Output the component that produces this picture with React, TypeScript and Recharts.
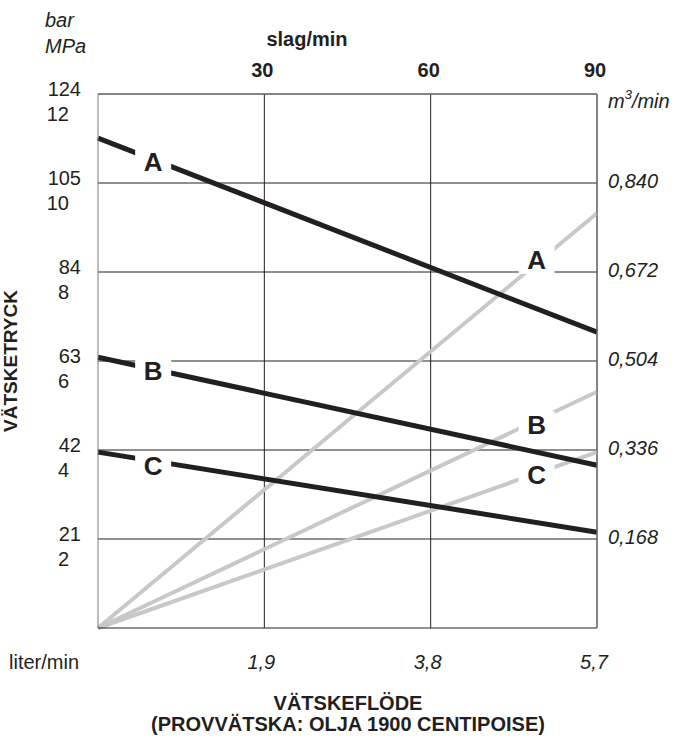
import React from 'react'
import { LineChart, Line, XAxis, YAxis, CartesianGrid, ReferenceDot } from 'recharts'

// flow (liter/min) and stroke rate (slag/min) at the two ends of each line
const flow = [0, 5.7]
const strokes = [0, 90]

// pressure curves, bar
const pressureA = [115.6, 69.8]
const pressureB = [63.9, 38.4]
const pressureC = [41.5, 22.6]

// delivery curves, m3/min
const rateA = [0, 0.783]
const rateB = [0, 0.446]
const rateC = [0, 0.332]

const flowTicks = [1.9, 3.8, 5.7]
const flowTickLabels = ['1,9', '3,8', '5,7']
const strokeTicks = [30, 60, 90]
const barTicks = [21, 42, 63, 84, 105, 126]
const barTickLabels = ['21', '42', '63', '84', '105', '124']
const mpaTickLabels = ['2', '4', '6', '8', '10', '12']
const m3Ticks = [0.168, 0.336, 0.504, 0.672, 0.84]
const m3TickLabels = ['0,168', '0,336', '0,504', '0,672', '0,840']

const pressureLabels = [
  { name: 'A', flow: 0.63, bar: 110 },
  { name: 'B', flow: 0.63, bar: 60.6 },
  { name: 'C', flow: 0.63, bar: 38.2 },
]
const rateLabels = [
  { name: 'A', flow: 5.01, m3: 0.695 },
  { name: 'B', flow: 5.01, m3: 0.383 },
  { name: 'C', flow: 5.01, m3: 0.289 },
]

const data = flow.map((f, i) => ({
  flow: f,
  strokes: strokes[i],
  pA: pressureA[i],
  pB: pressureB[i],
  pC: pressureC[i],
  qA: rateA[i],
  qB: rateB[i],
  qC: rateC[i],
}))

const FONT = '"Liberation Sans", Arial, Helvetica, sans-serif'
const INK = '#231f20'
const GREY = '#c8c8c8'
const FRAME = '#7a7a7a'

const LeftTick = (props: any) => {
  const { y, payload } = props
  const i = barTicks.indexOf(payload.value)
  return (
    <g fontFamily={FONT} fontSize={20} fill={INK}>
      <text x={81} y={y + 2} textAnchor="end" fill={INK}>{barTickLabels[i]}</text>
      <text x={69} y={y + 27} textAnchor="end" fill={INK}>{mpaTickLabels[i]}</text>
    </g>
  )
}

const RightTick = (props: any) => {
  const { y, payload } = props
  const i = m3Ticks.indexOf(payload.value)
  return (
    <text x={608} y={y + 5} fontFamily={FONT} fontSize={20} fontStyle="italic" fill={INK}>
      {m3TickLabels[i]}
    </text>
  )
}

const BottomTick = (props: any) => {
  const { x, payload } = props
  const i = flowTicks.indexOf(payload.value)
  return (
    <text x={x - 3} y={669} textAnchor="middle" fontFamily={FONT} fontSize={20} fontStyle="italic" fill={INK}>
      {flowTickLabels[i]}
    </text>
  )
}

const TopTick = (props: any) => {
  const { x, payload } = props
  return (
    <text x={x - 2} y={77} textAnchor="middle" fontFamily={FONT} fontSize={20} fontWeight="bold" fill={INK}>
      {payload.value}
    </text>
  )
}

const gapLabel = (name: string) => (props: any) => {
  const { cx, cy } = props
  return (
    <g>
      <rect x={cx - 18} y={cy - 14} width={36} height={28} fill="#fff" />
      <text x={cx} y={cy + 9} textAnchor="middle" fontFamily={FONT} fontSize={26} fontWeight="bold" fill={INK}>
        {name}
      </text>
    </g>
  )
}

export default function App() {
  return (
    <div style={{ position: 'absolute', left: 0, top: 0, width: 676, height: 740, background: '#fff' }}>
      <LineChart width={676} height={740} data={data} margin={{ top: 0, right: 0, bottom: 0, left: 0 }}>
        <CartesianGrid yAxisId="bar" stroke={INK} strokeWidth={1} horizontalValues={barTicks} verticalValues={flowTicks} />
        <XAxis
          dataKey="flow"
          type="number"
          domain={[0, 5.7]}
          ticks={flowTicks}
          interval={0}
          height={112}
          tickLine={false}
          axisLine={{ stroke: INK }}
          tick={<BottomTick />}
        />
        <XAxis
          xAxisId="top"
          orientation="top"
          dataKey="strokes"
          type="number"
          domain={[0, 90]}
          ticks={strokeTicks}
          interval={0}
          height={94}
          tickLine={false}
          axisLine={{ stroke: FRAME }}
          tick={<TopTick />}
        />
        <YAxis
          yAxisId="bar"
          type="number"
          domain={[0, 126]}
          ticks={barTicks}
          interval={0}
          width={98}
          tickLine={false}
          axisLine={{ stroke: FRAME }}
          tick={<LeftTick />}
        />
        <YAxis
          yAxisId="m3"
          orientation="right"
          type="number"
          domain={[0, 1.008]}
          ticks={m3Ticks}
          interval={0}
          width={79}
          tickLine={false}
          axisLine={{ stroke: FRAME }}
          tick={<RightTick />}
        />
        <Line yAxisId="m3" dataKey="qA" stroke={GREY} strokeWidth={4} dot={false} isAnimationActive={false} />
        <Line yAxisId="m3" dataKey="qB" stroke={GREY} strokeWidth={4} dot={false} isAnimationActive={false} />
        <Line yAxisId="m3" dataKey="qC" stroke={GREY} strokeWidth={4} dot={false} isAnimationActive={false} />
        <Line yAxisId="bar" dataKey="pA" stroke={INK} strokeWidth={5} dot={false} isAnimationActive={false} />
        <Line yAxisId="bar" dataKey="pB" stroke={INK} strokeWidth={5} dot={false} isAnimationActive={false} />
        <Line yAxisId="bar" dataKey="pC" stroke={INK} strokeWidth={5} dot={false} isAnimationActive={false} />
        {pressureLabels.map((l) => (
          <ReferenceDot key={'p' + l.name} yAxisId="bar" x={l.flow} y={l.bar} r={0} zIndex={2000} shape={gapLabel(l.name)} />
        ))}
        {rateLabels.map((l) => (
          <ReferenceDot key={'q' + l.name} yAxisId="m3" x={l.flow} y={l.m3} r={0} zIndex={2000} shape={gapLabel(l.name)} />
        ))}
      </LineChart>
      <svg width={676} height={740} style={{ position: 'absolute', left: 0, top: 0, pointerEvents: 'none' }} fontFamily={FONT} fill={INK}>
        <text x={45} y={27} fontSize={20} fontStyle="italic">bar</text>
        <text x={45} y={53} fontSize={20} fontStyle="italic">MPa</text>
        <text x={307} y={46} fontSize={20} fontWeight="bold" textAnchor="middle">slag/min</text>
        <text x={608} y={108} fontSize={20} fontStyle="italic">
          m<tspan fontSize={13} dy={-9}>3</tspan><tspan dy={9}>/min</tspan>
        </text>
        <text x={9} y={669} fontSize={20}>liter/min</text>
        <text x={348} y={710} fontSize={20} fontWeight="bold" textAnchor="middle">VÄTSKEFLÖDE</text>
        <text x={348} y={731} fontSize={20} fontWeight="bold" textAnchor="middle">(PROVVÄTSKA: OLJA 1900 CENTIPOISE)</text>
        <text x={0} y={0} fontSize={19} fontWeight="bold" textAnchor="middle" transform="translate(17 361) rotate(-90)">
          VÄTSKETRYCK
        </text>
      </svg>
    </div>
  )
}
